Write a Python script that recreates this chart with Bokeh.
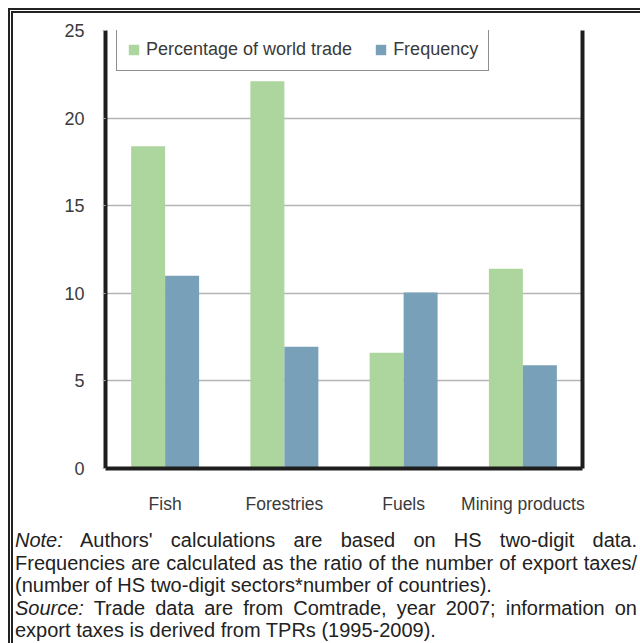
from bokeh.plotting import figure
from bokeh.models import (ColumnDataSource, FactorRange, Range1d, LinearAxis,
                          FixedTicker, Legend, LegendItem, Div)
from bokeh.layouts import column
from bokeh.transform import dodge
from bokeh.embed import file_html
from bokeh.resources import INLINE

categories = ["Fish", "Forestries", "Fuels", "Mining products"]
world_trade_pct = [18.4, 22.1, 6.6, 11.4]
frequency = [11.0, 6.95, 10.05, 5.9]
y_ticks = [0, 5, 10, 15, 20, 25]
series_names = ["Percentage of world trade", "Frequency"]

GREEN = "#acd69d"
BLUE = "#78a0b8"
FONT = "Liberation Sans"
TXT = "#3a3a3a"

src = ColumnDataSource(dict(cat=categories, pct=world_trade_pct, freq=frequency))

p = figure(x_range=FactorRange(factors=categories), y_range=Range1d(0, 25),
           width=627, height=512, output_backend="svg", toolbar_location=None,
           min_border_left=92, min_border_right=58, min_border_top=17,
           min_border_bottom=57)
p.outline_line_color = None

r1 = p.vbar(x=dodge("cat", -0.1425, range=p.x_range), top="pct", width=0.285,
            source=src, fill_color=GREEN, line_color=None)
r2 = p.vbar(x=dodge("cat", 0.1425, range=p.x_range), top="freq", width=0.285,
            source=src, fill_color=BLUE, line_color=None)

# grid
p.xgrid.grid_line_color = None
p.ygrid.ticker = FixedTicker(ticks=y_ticks)
p.ygrid.grid_line_color = "#b4b4b4"
p.ygrid.grid_line_width = 1.5

# y axis
ya = p.yaxis[0]
ya.ticker = FixedTicker(ticks=y_ticks)
ya.axis_line_width = 4
ya.axis_line_color = "#1e1e1e"
ya.major_tick_in = 0
ya.major_tick_out = 3
ya.major_tick_line_color = "#b4b4b4"
ya.minor_tick_line_color = None
ya.major_label_standoff = 18
ya.major_label_text_font = FONT
ya.major_label_text_font_size = "18px"
ya.major_label_text_color = TXT

# x axis
xa = p.xaxis[0]
xa.axis_line_width = 4
xa.axis_line_color = "#1e1e1e"
xa.major_tick_line_color = None
xa.minor_tick_line_color = None
xa.major_label_standoff = 19
xa.major_label_text_font = FONT
xa.major_label_text_font_size = "17.5px"
xa.major_label_text_color = TXT

# right frame line
ra = LinearAxis(ticker=FixedTicker(ticks=[]), axis_line_width=4,
                axis_line_color="#1e1e1e", major_tick_line_color=None,
                minor_tick_line_color=None)
p.add_layout(ra, "right")

legend = Legend(items=[LegendItem(label=series_names[0], renderers=[r1]),
                       LegendItem(label=series_names[1], renderers=[r2])],
                orientation="horizontal", location=(11, 397),
                label_text_font=FONT, label_text_font_size="18px",
                label_text_color=TXT, glyph_width=13, glyph_height=13,
                label_standoff=6, spacing=22, padding=10, margin=0,
                border_line_color="#1e1e1e", border_line_width=1.8,
                background_fill_alpha=1)
p.add_layout(legend, "center")

line_css = "white-space:nowrap;"
just = "text-align:justify;text-align-last:justify;"
note_html = (
    '<div style="font-family:\'Liberation Sans\';font-size:20px;line-height:22.5px;'
    'color:#222;width:622px;margin-left:-3px;">'
    f'<div style="{line_css}{just}"><i>Note:</i> Authors\' calculations are based on HS two-digit data.</div>'
    f'<div style="{line_css}{just}">Frequencies are calculated as the ratio of the number of export taxes/</div>'
    f'<div style="{line_css}">(number of HS two-digit sectors*number of countries).</div>'
    f'<div style="{line_css}{just}"><i>Source:</i> Trade data are from Comtrade, year 2007; information on</div>'
    f'<div style="{line_css}">export taxes is derived from TPRs (1995-2009).</div>'
    '</div>'
)
note = Div(text=note_html, width=624, height=118,
           styles={"margin-top": "4px"})

layout = column(p, note,
                styles={"margin-left": "8px", "margin-top": "8px",
                        "border-left": "5px double #222",
                        "border-top": "5px double #222"})

open("out.html", "w").write(file_html(layout, INLINE))
